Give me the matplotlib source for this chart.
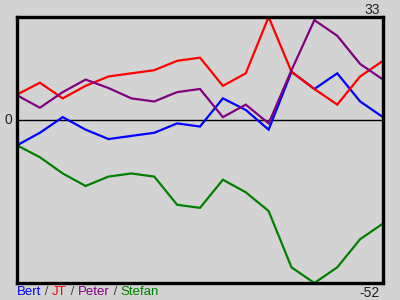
import matplotlib
matplotlib.use("Agg")
import matplotlib.pyplot as plt
from matplotlib.transforms import offset_copy

names = ["Bert", "JT", "Peter", "Stefan"]
colors = ["#0000ff", "#ff0000", "#800080", "#008000"]
bert = [-8, -4, 1, -3, -6, -5, -4, -1, -2, 7, 3.3, -3, 15.5, 10, 15, 6, 1]
jt = [8.2, 12, 7, 11, 14, 15, 16, 19, 20, 11, 15, 33, 15.5, 10, 5, 14, 19]
peter = [8, 4, 9, 13, 10.3, 7, 6, 9, 10, 1, 5, -1, 16, 32, 27, 18, 13]
stefan = [-8, -11.8, -17, -21, -18, -17, -18, -27, -28, -19, -23, -29, -47, -52, -47, -38, -33]
series = [bert, jt, peter, stefan]
ymax, ymin = 33, -52

plt.rcParams['font.family'] = ['Liberation Sans', 'DejaVu Sans']
fig = plt.figure(figsize=(4, 3), dpi=100, facecolor="#d3d3d3")
ax = fig.add_axes([17/400, 17/300, 366/400, 266/300])
ax.set_facecolor("#d3d3d3")
n = len(bert)
x = list(range(n))
ax.axhline(0, color="black", lw=1)
for s, c in zip(series, colors):
    ax.plot(x, s, color=c, lw=1.6, solid_joinstyle="miter")
ax.set_xlim(0, n - 1)
ax.set_ylim(ymin, ymax)
ax.set_xticks([])
ax.set_yticks([])
for sp in ax.spines.values():
    sp.set_linewidth(2.4)
    sp.set_color("black")

fs = 10
tr = offset_copy(ax.transAxes, fig=fig, x=-3, y=0, units="dots")
ax.text(1, 1.01, str(ymax), transform=tr, ha="right", va="baseline", fontsize=fs, color="#222222")
ax.text(1, -0.012, str(ymin), transform=tr, ha="right", va="top", fontsize=fs, color="#222222")
ax.text(-0.012, 0, "0", transform=ax.get_yaxis_transform(), ha="right", va="center", fontsize=fs, color="#222222")

prev = ax.text(0, -0.012, names[0], transform=ax.transAxes, ha="left", va="top", fontsize=9.5, color=colors[0])
for nm, c in zip(names[1:], colors[1:]):
    prev = ax.annotate(" / ", xy=(1, 0), xycoords=prev, va="bottom", ha="left", fontsize=9.5, color="#444444")
    prev = ax.annotate(nm, xy=(1, 0), xycoords=prev, va="bottom", ha="left", fontsize=9.5, color=c)

fig.savefig("out.png", dpi=100, facecolor=fig.get_facecolor())
